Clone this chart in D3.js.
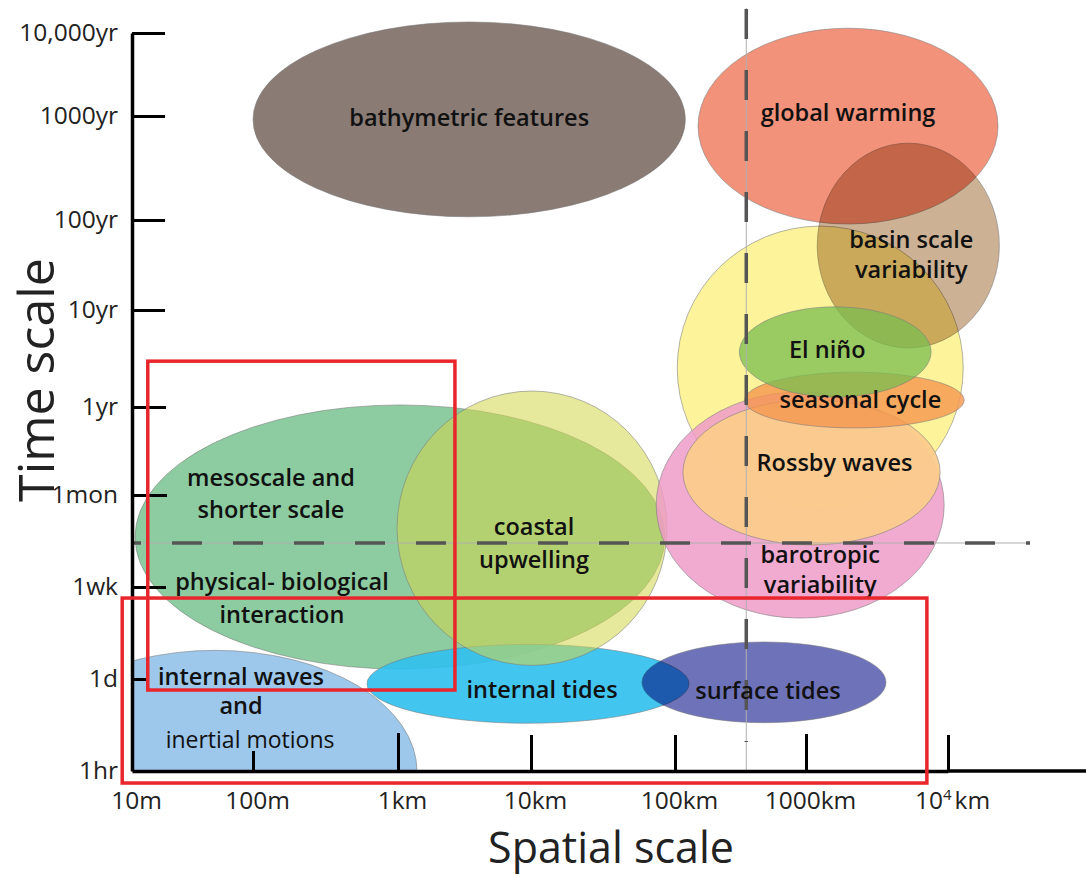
<!DOCTYPE html>
<html>
<head>
<meta charset="utf-8">
<script src="https://cdn.jsdelivr.net/npm/d3@7"></script>
<style>
  body { margin: 0; background: #fff; }
  svg { display: block; }
  text { font-family: "Open Sans", "Noto Sans", sans-serif; }
</style>
</head>
<body>
<div id="chart"></div>
<script>

// spatial scale ticks, in metres
var xTicks = [10, 100, 1e3, 1e4, 1e5, 1e6, 1e7];
var xTickLabels = ["10m", "100m", "1km", "10km", "100km", "1000km", "10^4km"];

// time scale ticks, in hours
var yTicks = [1, 24, 168, 720, 8760, 87600, 876000, 8760000, 87600000];
var yTickLabels = ["1hr", "1d", "1wk", "1mon", "1yr", "10yr", "100yr", "1000yr", "10,000yr"];

// processes, in drawing order: space range (m) and time range (h)
var names = ["internal waves", "mesoscale", "internal tides", "coastal upwelling",
             "bathymetric features", "global warming", "large scale", "basin scale variability",
             "barotropic variability", "Rossby waves", "seasonal cycle", "El niño", "surface tides"];
var xMin = [1.04, 10.6, 611, 985, 100, 1.5e5, 1.04e5, 1.2e6, 7.4e4, 1.15e5, 3.4e5, 3.1e5, 5.9e4];
var xMax = [1390, 8.5e4, 1.28e5, 8.8e4, 1.2e5, 2.25e7, 1.28e7, 2.3e7, 9.4e6, 8.8e6, 1.3e7, 7.6e6, 3.66e6];
var tMin = [0.015, 29.6, 5.2, 32, 9.4e5, 7.9e5, 568, 3.56e4, 87, 327, 4830, 1.11e4, 5.3];
var tMax = [44, 9200, 50, 1.28e4, 1.19e8, 1.0e8, 7.5e5, 4.8e6, 1.25e4, 1.04e4, 2.0e4, 9.5e4, 52.5];

// text written on the bubbles, and which bubble each line belongs to
var labelText = ["internal waves", "and", "inertial motions",
                 "mesoscale and", "shorter scale", "physical- biological", "interaction",
                 "internal tides", "coastal", "upwelling", "bathymetric features", "global warming",
                 "basin scale", "variability", "barotropic", "variability", "Rossby waves",
                 "seasonal cycle", "El niño", "surface tides"];
var labelOf = [0, 0, 0, 1, 1, 1, 1, 2, 3, 3, 4, 5, 7, 7, 8, 8, 9, 10, 11, 12];

// dashed dividers (350 km, ~2 weeks)
var dividerX = 3.5e5, dividerT = 337;

// red highlight boxes
var boxXMin = [13.5, 8.3], boxXMax = [2680, 7.1e6];
var boxTMin = [16.4, 0.66], boxTMax = [2.6e4, 133];

// ---- style / layout ----
var fills = ["#9dc8eb", "#79c38f", "#32c0ee", "#d3d64f", "#8a7b74", "#f3927a", "#fdf39a", "#c3a382",
             "#ee9bc8", "#fbcb8c", "#f5964e", "#78be50", "#6e73b9"];
var opac = [1, 0.85, 0.92, 0.57, 1, 1, 1, 0.85, 0.85, 0.95, 0.8, 0.75, 1];
var blend = ["normal", "normal", "normal", "normal", "normal", "normal", "normal", "multiply",
             "normal", "normal", "normal", "normal", "multiply"];
var labelOffset = [[26, -95], [26, -66], [35, -32], [-129, -59], [-129, -27], [-118, 45], [-118, 78],
                   [14, 6], [2, -1], [2, 32], [0, -2], [0, -13], [3, -6], [3, 24], [20, 50], [20, 80],
                   [23, -10], [6, 0], [-8, -2], [4, 8]];
var yTickLen = [0, 16, 34, 35, 34, 33, 33, 33, 33];
var xTickLen = [0, 20, 38, 36, 36, 37, 36];

var W = 1086, H = 877;

var svg = d3.select("#chart").append("svg")
    .attr("width", W)
    .attr("height", H);

var x = d3.scaleLog().domain(xTicks).range([132, 253, 398, 531, 675, 806, 948]);
var y = d3.scaleLog().domain(yTicks).range([771, 679, 587, 495, 407, 310, 220, 116, 33]);

svg.append("clipPath").attr("id", "plot")
    .append("rect")
    .attr("x", x(10)).attr("y", 0)
    .attr("width", W - x(10)).attr("height", y(1));

// bubbles
var bubbles = svg.append("g").attr("clip-path", "url(#plot)");
var geo = names.map(function (n, i) {
    var x0 = x(xMin[i]), x1 = x(xMax[i]);
    var y0 = y(tMax[i]), y1 = y(tMin[i]);
    return { cx: (x0 + x1) / 2, cy: (y0 + y1) / 2, rx: (x1 - x0) / 2, ry: (y1 - y0) / 2 };
});

bubbles.selectAll("ellipse")
    .data(geo)
    .enter()
    .append("ellipse")
    .attr("cx", function (d) { return d.cx; })
    .attr("cy", function (d) { return d.cy; })
    .attr("rx", function (d) { return d.rx; })
    .attr("ry", function (d) { return d.ry; })
    .attr("fill", function (d, i) { return fills[i]; })
    .attr("fill-opacity", function (d, i) { return opac[i]; })
    .attr("stroke", "#7a7a7a")
    .attr("stroke-opacity", 0.7)
    .attr("stroke-width", 0.8)
    .style("mix-blend-mode", function (d, i) { return blend[i]; });

// dashed dividers
var dx = x(dividerX), dy = y(dividerT);
svg.append("line")
    .attr("x1", dx).attr("x2", dx).attr("y1", 8).attr("y2", y(1))
    .attr("stroke", "#b0b0b0").attr("stroke-width", 1);
svg.append("line")
    .attr("x1", dx).attr("x2", dx).attr("y1", 9).attr("y2", 742)
    .attr("stroke", "#555").attr("stroke-width", 3.5)
    .attr("stroke-dasharray", "30,31");
svg.append("line")
    .attr("x1", x(10)).attr("x2", 1030).attr("y1", dy).attr("y2", dy)
    .attr("stroke", "#b0b0b0").attr("stroke-width", 1);
svg.append("line")
    .attr("x1", x(10)).attr("x2", 1030).attr("y1", dy).attr("y2", dy)
    .attr("stroke", "#555").attr("stroke-width", 3.5)
    .attr("stroke-dasharray", "30,31")
    .attr("stroke-dashoffset", 21);

// labels
svg.append("g").selectAll("text")
    .data(labelText)
    .enter()
    .append("text")
    .attr("x", function (d, i) { return geo[labelOf[i]].cx + labelOffset[i][0]; })
    .attr("y", function (d, i) { return geo[labelOf[i]].cy + labelOffset[i][1]; })
    .attr("dy", "0.35em")
    .attr("text-anchor", "middle")
    .attr("font-size", function (d) { return d == "inertial motions" ? 23 : 23.5; })
    .attr("font-weight", function (d) { return d == "inertial motions" ? 400 : 600; })
    .attr("fill", "#111")
    .text(function (d) { return d; });

// axes
var yAxis = d3.axisLeft(y)
    .tickValues(yTicks)
    .tickFormat(function (d, i) { return yTickLabels[i]; })
    .tickSizeInner(-33)
    .tickSizeOuter(0)
    .tickPadding(14);

var gy = svg.append("g").attr("transform", "translate(" + x(10) + ",0)").call(yAxis);
gy.select(".domain").attr("stroke", "#000").attr("stroke-width", 3.5);
gy.selectAll(".tick line")
    .attr("stroke", "#000").attr("stroke-width", 3)
    .attr("x2", function (d, i) { return yTickLen[i]; });
gy.selectAll(".tick text")
    .attr("font-size", 24.5).attr("fill", "#222")
    .attr("font-family", "\"Open Sans\", sans-serif");

var xAxis = d3.axisBottom(x)
    .tickValues(xTicks)
    .tickFormat(function (d, i) { return xTickLabels[i]; })
    .tickSizeInner(-37)
    .tickSizeOuter(0)
    .tickPadding(21);

var gx = svg.append("g").attr("transform", "translate(0," + y(1) + ")").call(xAxis);
gx.select(".domain").attr("stroke", "#000").attr("stroke-width", 3.5);
gx.append("line")
    .attr("x1", x(1e7)).attr("x2", W).attr("y1", 0).attr("y2", 0)
    .attr("stroke", "#000").attr("stroke-width", 3.5);
gx.selectAll(".tick line")
    .attr("stroke", "#000").attr("stroke-width", 3)
    .attr("y2", function (d, i) { return -xTickLen[i]; });
gx.selectAll(".tick text")
    .attr("font-size", 24.5).attr("fill", "#222")
    .attr("font-family", "\"Open Sans\", sans-serif")
    .attr("dx", 4);

// 10^4 km with a raised 4
gx.selectAll(".tick text").filter(function (d, i) { return xTickLabels[i].indexOf("^") > 0; })
    .each(function (d) {
        var parts = xTickLabels[xTicks.indexOf(d)].split(/\^|km/);
        var t = d3.select(this).text("");
        t.append("tspan").text(parts[0]);
        t.append("tspan").attr("dy", -9).attr("font-size", 15).text(parts[1]);
        t.append("tspan").attr("dy", 9).attr("dx", 3).text("km");
    });

// red boxes
svg.append("g").selectAll("rect")
    .data(boxXMin)
    .enter()
    .append("rect")
    .attr("x", function (d, i) { return x(boxXMin[i]); })
    .attr("y", function (d, i) { return y(boxTMax[i]); })
    .attr("width", function (d, i) { return x(boxXMax[i]) - x(boxXMin[i]); })
    .attr("height", function (d, i) { return y(boxTMin[i]) - y(boxTMax[i]); })
    .attr("fill", "none")
    .attr("stroke", "#e8262b")
    .attr("stroke-width", 3.5);

// axis titles
svg.append("text")
    .attr("transform", "translate(54,380) rotate(-90)")
    .attr("text-anchor", "middle")
    .attr("font-size", 50)
    .attr("fill", "#222")
    .text("Time scale");

svg.append("text")
    .attr("x", 611)
    .attr("y", 863)
    .attr("text-anchor", "middle")
    .attr("font-size", 43)
    .attr("fill", "#222")
    .text("Spatial scale");
</script>
</body>
</html>
